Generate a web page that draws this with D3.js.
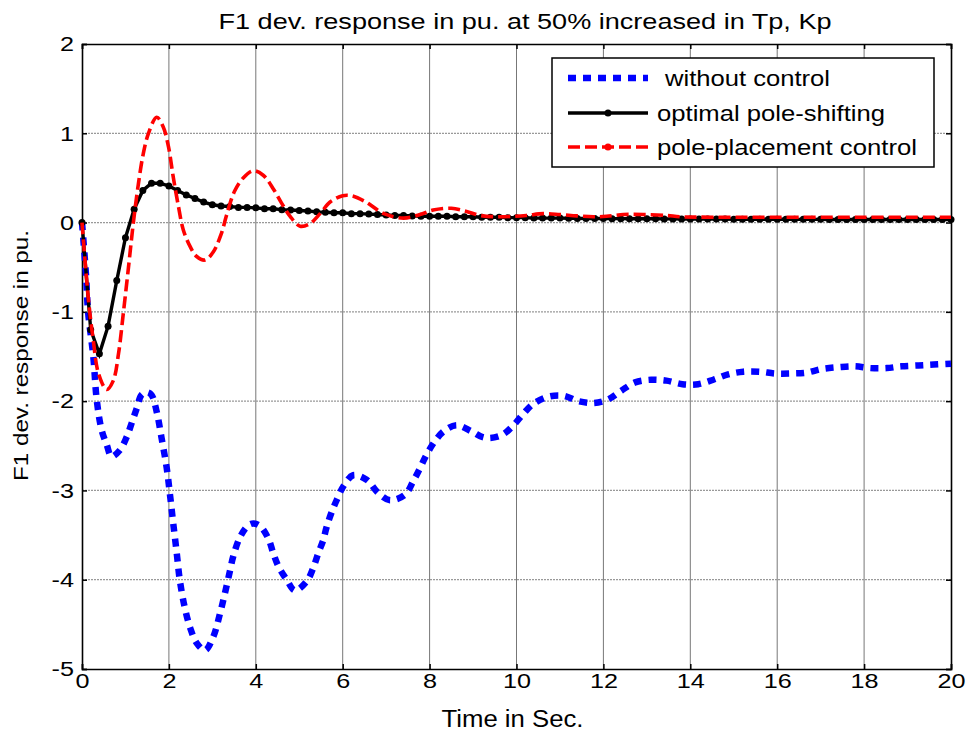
<!DOCTYPE html>
<html>
<head>
<meta charset="utf-8">
<script src="https://cdn.jsdelivr.net/npm/d3@7"></script>
<style>
    body { margin: 0; background: #fff; }
    text { font-family: "Liberation Sans", Arial, sans-serif; fill: #000; }
</style>
</head>
<body>
<div id="chart"></div>
<script>
// values
var xTicks = [0, 2, 4, 6, 8, 10, 12, 14, 16, 18, 20];
var yTicks = [-5, -4, -3, -2, -1, 0, 1, 2];
var seriesNames = ["without control", "optimal pole-shifting", "pole-placement control"];

// without control (blue dotted)
var blueT = [0, 0.09, 0.14, 0.26, 0.34, 0.45, 0.57, 0.68, 0.87, 1.03, 1.14, 1.26, 1.37, 1.5, 1.6, 1.72, 1.83, 1.95,
    2.03, 2.1, 2.18, 2.25, 2.36, 2.49, 2.64, 2.83, 3.02, 3.18, 3.29, 3.41, 3.48, 3.64, 3.83, 3.95, 4.1, 4.29, 4.4,
    4.52, 4.71, 4.9, 5.17, 5.32, 5.44, 5.55, 5.63, 5.74, 5.86, 6.02, 6.24, 6.55, 6.82, 7.09, 7.43, 7.62, 7.78, 7.93,
    8.12, 8.32, 8.62, 8.97, 9.27, 9.66, 9.93, 10.16, 10.39, 10.73, 11.08, 11.42, 11.78, 12.11, 12.42, 12.73, 13.1,
    13.45, 13.82, 14.18, 14.53, 14.87, 15.22, 15.6, 15.95, 16.33, 16.68, 17.02, 17.41, 17.79, 18.14, 18.52, 18.86,
    19.25, 19.6, 20];
var blueY = [0, -0.57, -1.0, -1.5, -1.99, -2.32, -2.49, -2.62, -2.55, -2.4, -2.25, -2.08, -1.93, -1.9, -1.93, -2.12,
    -2.41, -2.75, -3.07, -3.37, -3.7, -4.0, -4.3, -4.54, -4.71, -4.79, -4.64, -4.37, -4.15, -3.89, -3.74, -3.52,
    -3.39, -3.37, -3.4, -3.54, -3.7, -3.85, -4.0, -4.12, -4.02, -3.87, -3.7, -3.56, -3.41, -3.25, -3.11, -2.95,
    -2.83, -2.88, -3.03, -3.11, -3.05, -2.9, -2.75, -2.6, -2.45, -2.34, -2.27, -2.34, -2.41, -2.38, -2.27, -2.14,
    -2.03, -1.95, -1.94, -2.0, -2.02, -1.98, -1.88, -1.79, -1.76, -1.77, -1.81, -1.81, -1.76, -1.7, -1.67, -1.67,
    -1.69, -1.69, -1.68, -1.64, -1.62, -1.61, -1.63, -1.63, -1.61, -1.6, -1.59, -1.58];

// optimal pole-shifting (black, markers every 0.2 s)
var blackT = [0, 0.2, 0.4, 0.6, 0.8, 1, 1.2, 1.4, 1.6, 1.8, 2, 2.2, 2.4, 2.6, 2.8, 3, 3.2, 3.4, 3.6, 3.8, 4,
    4.2, 4.4, 4.6, 4.8, 5, 5.2, 5.4, 5.6, 5.8, 6, 6.2, 6.4, 6.6, 6.8, 7, 7.2, 7.4, 7.6, 7.8, 8, 8.2, 8.4, 8.6, 8.8,
    9, 9.2, 9.4, 9.6, 9.8, 10, 10.2, 10.4, 10.6, 10.8, 11, 11.2, 11.4, 11.6, 11.8, 12, 12.2, 12.4, 12.6, 12.8, 13,
    13.2, 13.4, 13.6, 13.8, 14, 14.2, 14.4, 14.6, 14.8, 15, 15.2, 15.4, 15.6, 15.8, 16, 16.2, 16.4, 16.6, 16.8, 17,
    17.2, 17.4, 17.6, 17.8, 18, 18.2, 18.4, 18.6, 18.8, 19, 19.2, 19.4, 19.6, 19.8, 20];
var blackY = [0, -1.2, -1.47, -1.16, -0.65, -0.17, 0.15, 0.36, 0.44, 0.44, 0.41, 0.36, 0.31, 0.27, 0.23, 0.2,
    0.185, 0.18, 0.17, 0.17, 0.165, 0.155, 0.155, 0.145, 0.14, 0.135, 0.13, 0.12, 0.115, 0.11, 0.11, 0.1, 0.1,
    0.095, 0.09, 0.085, 0.08, 0.08, 0.075, 0.07, 0.07, 0.07, 0.07, 0.065, 0.065, 0.065, 0.06, 0.06, 0.06, 0.055,
    0.055, 0.055, 0.05, 0.05, 0.05, 0.05, 0.048, 0.047, 0.046, 0.045, 0.045, 0.044, 0.044, 0.043, 0.043, 0.042,
    0.042, 0.041, 0.041, 0.04, 0.04, 0.04, 0.039, 0.039, 0.039, 0.038, 0.038, 0.038, 0.037, 0.037, 0.037, 0.037,
    0.036, 0.036, 0.036, 0.036, 0.035, 0.035, 0.035, 0.035, 0.035, 0.035, 0.034, 0.034, 0.034, 0.034, 0.034,
    0.034, 0.034, 0.034, 0.034];

// pole-placement control (red dashed)
var redT = [0, 0.15, 0.26, 0.38, 0.57, 0.72, 0.84, 0.95, 1.07, 1.18, 1.3, 1.41, 1.53, 1.72, 1.87, 1.99, 2.1, 2.22,
    2.33, 2.49, 2.64, 2.83, 3.02, 3.21, 3.32, 3.51, 3.71, 3.94, 4.17, 4.4, 4.59, 4.79, 5.02, 5.25, 5.48, 5.71, 6.0,
    6.2, 6.5, 6.95, 7.4, 7.78, 8.08, 8.5, 8.85, 9.16, 9.54, 9.93, 10.23, 10.62, 11.0, 11.39, 11.77, 12.07, 12.46,
    12.92, 13.46, 13.76, 14.5, 16, 18, 20];
var redY = [0, -0.87, -1.32, -1.69, -1.87, -1.77, -1.47, -1.02, -0.5, -0.01, 0.44, 0.77, 1.0, 1.18, 1.07, 0.85,
    0.51, 0.18, -0.08, -0.27, -0.38, -0.42, -0.33, -0.12, 0.07, 0.35, 0.5, 0.58, 0.53, 0.38, 0.22, 0.07, -0.04,
    -0.01, 0.1, 0.23, 0.3, 0.3, 0.24, 0.1, 0.05, 0.09, 0.14, 0.16, 0.125, 0.08, 0.065, 0.07, 0.08, 0.1, 0.09,
    0.075, 0.065, 0.07, 0.09, 0.09, 0.08, 0.065, 0.06, 0.06, 0.06, 0.06];

var svgWidth = 966, svgHeight = 734;
var chartMargin = { top: 44, left: 82, right: 15, bottom: 65 };
var chartWidth = svgWidth - chartMargin.left - chartMargin.right;
var chartHeight = svgHeight - chartMargin.top - chartMargin.bottom;

var svg = d3.select("#chart").append("svg")
    .attr("width", svgWidth)
    .attr("height", svgHeight);
var chartGroup = svg.append("g")
    .attr("transform", `translate(${chartMargin.left}, ${chartMargin.top})`);

var x = d3.scaleLinear().domain([0, 20]).range([0, chartWidth]);
var y = d3.scaleLinear().domain([-5, 2]).range([chartHeight, 0]);

// grid
chartGroup.append("g").selectAll("line").data(xTicks.slice(1, -1)).enter().append("line")
    .attr("x1", d => x(d)).attr("x2", d => x(d))
    .attr("y1", 0).attr("y2", chartHeight)
    .attr("stroke", "#777").attr("stroke-width", 1);
chartGroup.append("g").selectAll("line").data(yTicks.slice(1, -1)).enter().append("line")
    .attr("x1", 0).attr("x2", chartWidth)
    .attr("y1", d => y(d)).attr("y2", d => y(d))
    .attr("stroke", "#999").attr("stroke-width", 1.3).attr("stroke-dasharray", "2,1");

// axes, ticks inside like matlab
var fmt = d => String(d);
var xAxis = chartGroup.append("g").attr("transform", `translate(0, ${chartHeight})`)
    .call(d3.axisBottom(x).tickValues(xTicks).tickSize(-5).tickPadding(4).tickFormat(fmt));
var yAxis = chartGroup.append("g")
    .call(d3.axisLeft(y).tickValues(yTicks).tickSize(-5).tickPadding(8).tickFormat(fmt));
chartGroup.append("g")
    .call(d3.axisTop(x).tickValues(xTicks).tickSize(-5).tickFormat(""));
chartGroup.append("g").attr("transform", `translate(${chartWidth}, 0)`)
    .call(d3.axisRight(y).tickValues(yTicks).tickSize(-5).tickFormat(""));

chartGroup.selectAll(".domain").attr("stroke", "#000").attr("stroke-width", 1.6);
chartGroup.selectAll(".tick line").attr("stroke", "#000").attr("stroke-width", 1.5);
xAxis.selectAll("text").attr("font-size", 21).attr("font-family", null)
    .attr("transform", "scale(1.2,1)");
yAxis.selectAll("text").attr("font-size", 21).attr("font-family", null)
    .attr("x", -8 / 1.2).attr("transform", "scale(1.2,1)");

// curves
var pts = (ts, ys) => ts.map((t, i) => [t, ys[i]]);
var line = d3.line().x(d => x(d[0])).y(d => y(d[1]));
var smooth = d3.line().x(d => x(d[0])).y(d => y(d[1])).curve(d3.curveCatmullRom.alpha(0.5));

chartGroup.append("path").datum(pts(blueT, blueY))
    .attr("d", smooth).attr("fill", "none")
    .attr("stroke", "#0000ff").attr("stroke-width", 6.5).attr("stroke-dasharray", "8,7");

var blackPts = pts(blackT, blackY);
chartGroup.append("path").datum(blackPts)
    .attr("d", line).attr("fill", "none")
    .attr("stroke", "#000").attr("stroke-width", 3.4);
chartGroup.append("g").selectAll("circle").data(blackPts).enter().append("circle")
    .attr("cx", d => x(d[0])).attr("cy", d => y(d[1])).attr("r", 3.5).attr("fill", "#000");

chartGroup.append("path").datum(pts(redT, redY))
    .attr("d", smooth).attr("fill", "none")
    .attr("stroke", "#ff0000").attr("stroke-width", 3.6).attr("stroke-dasharray", "12,5");

// legend
var legend = svg.append("g").attr("transform", "translate(552, 58)");
legend.append("rect").attr("width", 382).attr("height", 109)
    .attr("fill", "#fff").attr("stroke", "#000").attr("stroke-width", 1.5);
var rows = [
    { y: 20, color: "#0000ff", w: 6.5, dash: "8,7", dot: false, tx: 113, len: 165 },
    { y: 55, color: "#000", w: 3.4, dash: null, dot: true, tx: 105, len: 228 },
    { y: 89, color: "#ff0000", w: 3.6, dash: "12,5", dot: true, tx: 105, len: 260 }
];
rows.forEach(function(r, i) {
    legend.append("line").attr("x1", 16).attr("x2", 96).attr("y1", r.y).attr("y2", r.y)
        .attr("stroke", r.color).attr("stroke-width", r.w).attr("stroke-dasharray", r.dash);
    if (r.dot) {
        legend.append("circle").attr("cx", 56).attr("cy", r.y).attr("r", 3.5).attr("fill", r.color);
    }
    legend.append("text").attr("x", r.tx).attr("y", r.y + 8)
        .attr("font-size", 22).attr("textLength", r.len).attr("lengthAdjust", "spacingAndGlyphs")
        .text(seriesNames[i]);
});

// title and axis labels
svg.append("text").attr("x", 525).attr("y", 29).attr("text-anchor", "middle")
    .attr("font-size", 22).attr("textLength", 613).attr("lengthAdjust", "spacingAndGlyphs")
    .text("F1 dev. response in pu. at 50% increased in Tp, Kp");
svg.append("text").attr("x", 512.5).attr("y", 727).attr("text-anchor", "middle")
    .attr("font-size", 23).attr("textLength", 142).attr("lengthAdjust", "spacingAndGlyphs")
    .text("Time in Sec.");
svg.append("text").attr("transform", "translate(28, 355.5) rotate(-90)").attr("text-anchor", "middle")
    .attr("font-size", 21).attr("textLength", 251).attr("lengthAdjust", "spacingAndGlyphs")
    .text("F1 dev. response in pu.");
</script>
</body>
</html>
